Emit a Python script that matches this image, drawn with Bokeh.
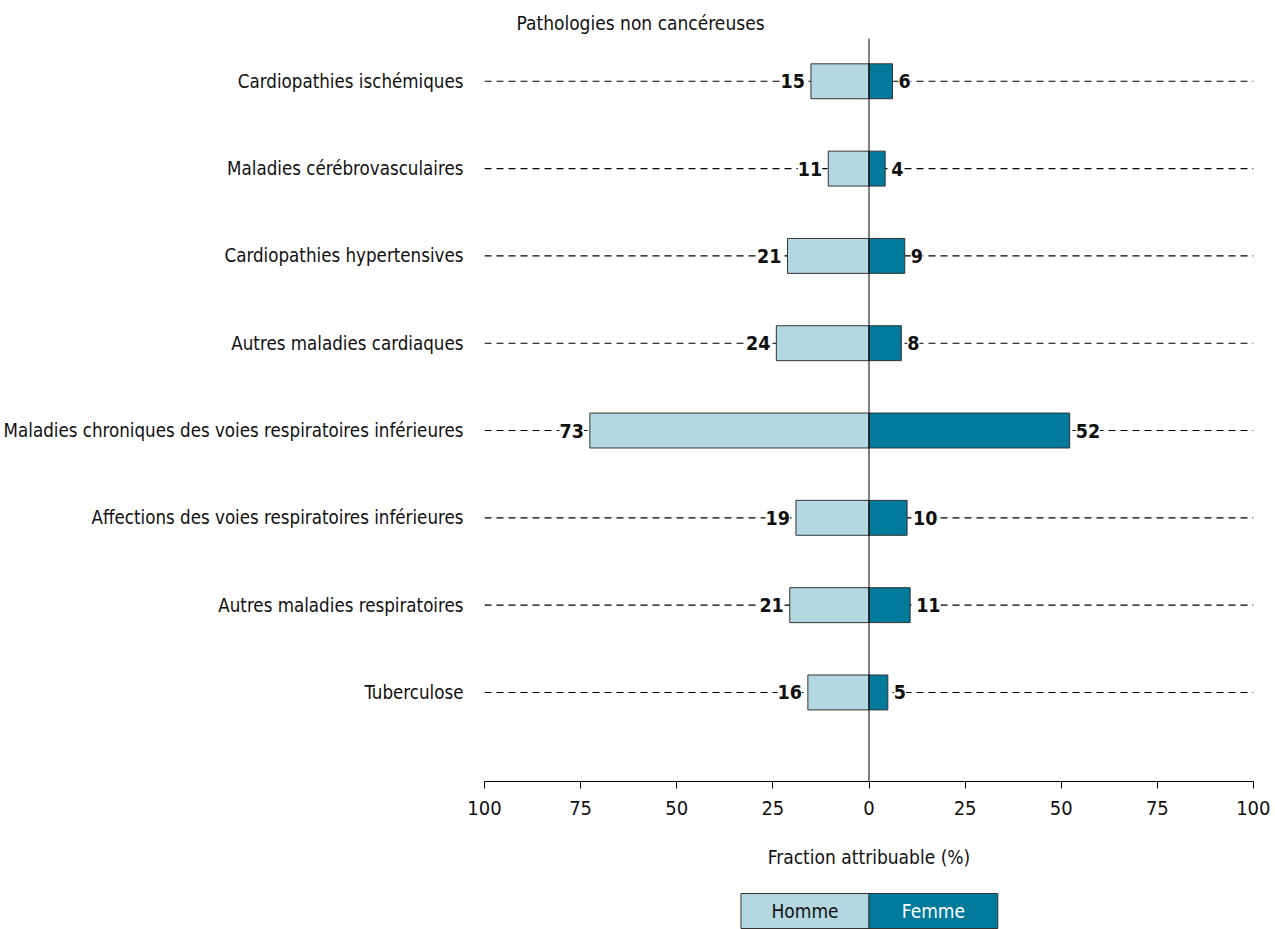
from bokeh.plotting import figure
from bokeh.models import (ColumnDataSource, Range1d, FixedTicker, LabelSet, Span, Title)
from bokeh.layouts import column
from bokeh.embed import file_html
from bokeh.resources import INLINE
from bokeh.core.properties import value

categories = [
    "Cardiopathies ischémiques",
    "Maladies cérébrovasculaires",
    "Cardiopathies hypertensives",
    "Autres maladies cardiaques",
    "Maladies chroniques des voies respiratoires inférieures",
    "Affections des voies respiratoires inférieures",
    "Autres maladies respiratoires",
    "Tuberculose",
]
homme = [15.1, 10.6, 21.2, 24.1, 72.6, 19.0, 20.6, 15.9]
femme = [6.1, 4.2, 9.3, 8.4, 52.2, 9.9, 10.7, 4.9]
x_ticks = [-100, -75, -50, -25, 0, 25, 50, 75, 100]

FONT = "DejaVu Sans Condensed"
C_H = "#b3d8e2"
C_F = "#007a9b"
TXT = "#111111"

ys = list(range(len(categories)))
src = ColumnDataSource(dict(
    y=ys,
    h_left=[-v for v in homme],
    f_right=femme,
    h_lab=[f"{round(v)}" for v in homme],
    f_lab=[f"{round(v)}" for v in femme],
    zero=[0] * len(ys),
    gl=[-100] * len(ys),
    gr=[100] * len(ys),
))

W = 1270
p = figure(width=W, height=892, output_backend="svg", toolbar_location=None,
           x_range=Range1d(-100, 100), y_range=Range1d(8.02, -0.49),
           min_border_left=484, min_border_right=17, min_border_top=38,
           min_border_bottom=111)
p.outline_line_color = None
p.grid.grid_line_color = None

p.title = Title(text="Pathologies non cancéreuses", align="left", offset=32,
                text_font=FONT, text_font_size="19px", text_font_style="normal",
                text_color=TXT)

# dashed guide lines
p.segment(x0="gl", x1="gr", y0="y", y1="y", source=src,
          line_color="black", line_width=1.1, line_dash="7 5")

# bars
p.hbar(y="y", left="h_left", right="zero", height=0.4, source=src,
       fill_color=C_H, line_color="#333333", line_width=1)
p.hbar(y="y", left="zero", right="f_right", height=0.4, source=src,
       fill_color=C_F, line_color="#333333", line_width=1)

# value labels
p.add_layout(LabelSet(x="h_left", y="y", text="h_lab", source=src,
                      x_offset=-6, text_align="right", text_baseline="middle",
                      text_font=value(FONT), text_font_size=value("19.5px"),
                      text_font_style=value("bold"),
                      text_color=TXT, background_fill_color="white"))
p.add_layout(LabelSet(x="f_right", y="y", text="f_lab", source=src,
                      x_offset=6, text_align="left", text_baseline="middle",
                      text_font=value(FONT), text_font_size=value("19.5px"),
                      text_font_style=value("bold"),
                      text_color=TXT, background_fill_color="white"))

p.add_layout(Span(location=0, dimension="height", line_color="black", line_width=1))

# x axis
xa = p.xaxis[0]
xa.ticker = FixedTicker(ticks=x_ticks)
xa.major_label_overrides = {t: str(abs(t)) for t in x_ticks}
xa.major_tick_in = 0
xa.major_tick_out = 7
xa.minor_tick_line_color = None
xa.axis_line_color = "black"
xa.major_tick_line_color = "black"
xa.major_label_standoff = 12
xa.major_label_text_font = FONT
xa.major_label_text_font_size = "20px"
xa.major_label_text_color = TXT
xa.axis_label = "Fraction attribuable (%)"
xa.axis_label_text_font = FONT
xa.axis_label_text_font_size = "19px"
xa.axis_label_text_font_style = "normal"
xa.axis_label_text_color = TXT
xa.axis_label_standoff = 28

# y axis with category labels
ya = p.yaxis[0]
ya.ticker = FixedTicker(ticks=ys)
ya.major_label_overrides = {i: c for i, c in enumerate(categories)}
ya.axis_line_color = None
ya.major_tick_line_color = None
ya.minor_tick_line_color = None
ya.major_label_standoff = 15
ya.major_label_text_font = FONT
ya.major_label_text_font_size = "18.6px"
ya.major_label_text_color = TXT

# legend as a separate strip
series = ["Homme", "Femme"]
leg_src = ColumnDataSource(dict(
    left=[-33.3, 0], right=[0, 33.5], name=series,
    xc=[-16.65, 16.75], color=[C_H, C_F], tcolor=[TXT, "white"],
))
lg = figure(width=W, height=37, output_backend="svg", toolbar_location=None,
            x_range=p.x_range, y_range=Range1d(0, 37),
            min_border_left=484, min_border_right=17, min_border_top=0,
            min_border_bottom=0)
lg.axis.visible = False
lg.grid.grid_line_color = None
lg.outline_line_color = None
lg.quad(left="left", right="right", top=36, bottom=1, source=leg_src,
        fill_color="color", line_color="#333333", line_width=1)
lg.text(x="xc", y=18.5, text="name", source=leg_src, text_align="center",
        text_baseline="middle", text_font=value(FONT), text_font_size="19px",
        text_color="tcolor")

layout = column(p, lg, spacing=0)
open("out.html", "w").write(file_html(layout, INLINE))
